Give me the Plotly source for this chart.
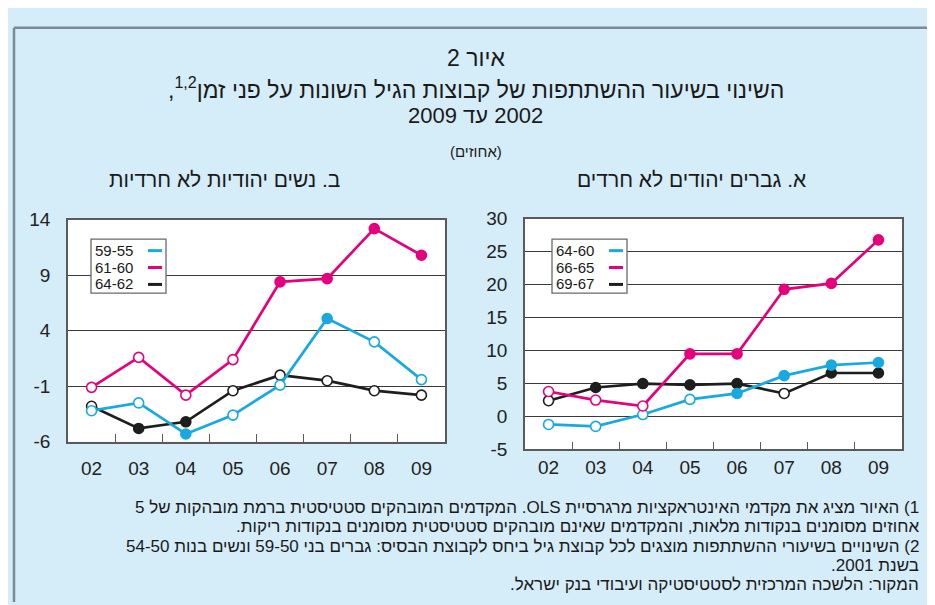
import plotly.graph_objects as go

# ---------------- data ----------------
years = ["02", "03", "04", "05", "06", "07", "08", "09"]

# Panel B: non-Haredi Jewish women
women_labels = ["59-55", "61-60", "64-62"]
women_55_59 = [-3.2, -2.5, -5.3, -3.6, -0.9, 5.1, 3.0, -0.4]
women_60_61 = [-1.1, 1.6, -1.8, 1.4, 8.4, 8.7, 13.2, 10.8]
women_62_64 = [-2.8, -4.8, -4.2, -1.4, 0.0, -0.5, -1.4, -1.8]
women_55_59_sig = [0, 0, 1, 0, 0, 1, 0, 0]
women_60_61_sig = [0, 0, 0, 0, 1, 1, 1, 1]
women_62_64_sig = [0, 1, 1, 0, 0, 0, 0, 0]
women_ticks = [-6, -1, 4, 9, 14]

# Panel A: non-Haredi Jewish men
men_labels = ["64-60", "66-65", "69-67"]
men_60_64 = [-1.2, -1.5, 0.3, 2.6, 3.5, 6.2, 7.8, 8.2]
men_65_66 = [3.8, 2.5, 1.6, 9.5, 9.5, 19.3, 20.2, 26.8]
men_67_69 = [2.4, 4.4, 5.0, 4.8, 5.0, 3.5, 6.6, 6.6]
men_60_64_sig = [0, 0, 0, 0, 1, 1, 1, 1]
men_65_66_sig = [0, 0, 0, 1, 1, 1, 1, 1]
men_67_69_sig = [0, 1, 1, 1, 1, 0, 1, 1]
men_ticks = [-5, 0, 5, 10, 15, 20, 25, 30]

BLUE = "#19a9e1"
PINK = "#e5007e"
BLACK = "#1e1e1e"
BG = "#d5ecf9"
SERIES_COLORS = [BLUE, PINK, BLACK]

RLE, PDF = "\u202b", "\u202c"


def rtl(s):
    return RLE + s + PDF


fig = go.Figure()
xpos = list(range(len(years)))


def add_series(vals, sig, color, xa, ya):
    fig.add_trace(go.Scatter(
        x=xpos, y=vals, mode="lines+markers", xaxis=xa, yaxis=ya,
        line=dict(color=color, width=2.7),
        marker=dict(symbol="circle", size=10,
                    color=[color if s else "white" for s in sig],
                    line=dict(color=color, width=1.6)),
        showlegend=False, hoverinfo="skip"))


# women (left)
add_series(women_62_64, women_62_64_sig, BLACK, "x", "y")
add_series(women_55_59, women_55_59_sig, BLUE, "x", "y")
add_series(women_60_61, women_60_61_sig, PINK, "x", "y")
# men (right)
add_series(men_67_69, men_67_69_sig, BLACK, "x2", "y2")
add_series(men_60_64, men_60_64_sig, BLUE, "x2", "y2")
add_series(men_65_66, men_65_66_sig, PINK, "x2", "y2")

W, H = 935, 605


def px_x(p):
    return p / W


def px_y(p):
    return 1 - p / H


# panel boxes in pixels: left, right, top, bottom
PANEL_L = (60, 437, 209, 439)
PANEL_R = (517, 894, 208, 447)

TICKFONT = dict(family="Liberation Sans, Arial", size=19, color="#222")
axis_common = dict(showline=True, mirror=True, linecolor="#5a5a5a", linewidth=1.5,
                   zeroline=False)
xa_common = dict(axis_common, range=[-0.5, 7.5], tickmode="array", tickvals=xpos,
                 ticktext=years, ticks="", showgrid=False, tickfont=TICKFONT,
                 minor=dict(tickmode="array", tickvals=[i + 0.5 for i in range(7)],
                            ticks="inside", ticklen=8, tickwidth=1.3, tickcolor="#5a5a5a",
                            showgrid=False))
ya_common = dict(axis_common, tickmode="array", ticks="", showgrid=True,
                 gridcolor="#3a3a3a", gridwidth=1, tickfont=TICKFONT,
                 ticklabelstandoff=12)

fig.update_layout(
    width=W, height=H, margin=dict(l=0, r=0, t=0, b=0),
    paper_bgcolor=BG, plot_bgcolor="white",
    xaxis=dict(xa_common, domain=[px_x(PANEL_L[0]), px_x(PANEL_L[1])], anchor="y",
               ticklabelstandoff=9),
    yaxis=dict(ya_common, domain=[px_y(PANEL_L[3]), px_y(PANEL_L[2])], anchor="x",
               range=[-6, 14], tickvals=women_ticks,
               ticktext=[str(v) for v in women_ticks]),
    xaxis2=dict(xa_common, domain=[px_x(PANEL_R[0]), px_x(PANEL_R[1])], anchor="y2",
                ticklabelstandoff=0),
    yaxis2=dict(ya_common, domain=[px_y(PANEL_R[3]), px_y(PANEL_R[2])], anchor="x2",
                range=[-5, 30], tickvals=men_ticks,
                ticktext=[str(v) for v in men_ticks]),
)

HEB = "Liberation Sans, DejaVu Sans, Arial"
annots = []


def txt(s, x, y, size, xanchor="center", color="#1a1a1a"):
    annots.append(dict(text=rtl(s), x=px_x(x), y=px_y(y), xref="paper", yref="paper",
                       xanchor=xanchor, yanchor="middle", showarrow=False, borderpad=0,
                       font=dict(family=HEB, size=size, color=color)))


txt("איור 2", 468, 41, 23)
txt("השינוי בשיעור ההשתתפות של קבוצות הגיל השונות על פני זמן<sup>1,2</sup>,", 468, 72, 23)
txt("2002 עד 2009", 468, 101, 22)
txt("(אחוזים)", 468, 138, 15)
txt("ב. נשים יהודיות לא חרדיות", 216, 167, 21)
txt("א. גברים יהודים לא חרדים", 683, 167, 21)

notes = [
    "1) האיור מציג את מקדמי האינטראקציות מרגרסיית OLS. המקדמים המובהקים סטטיסטית ברמת מובהקות של 5",
    "אחוזים מסומנים בנקודות מלאות, והמקדמים שאינם מובהקים סטטיסטית מסומנים בנקודות ריקות.",
    "2) השינויים בשיעורי ההשתתפות מוצגים לכל קבוצת גיל ביחס לקבוצת הבסיס: גברים בני 59-50 ונשים בנות 54-50",
    "בשנת 2001.",
    "המקור: הלשכה המרכזית לסטטיסטיקה ועיבודי בנק ישראל.",
]
note_y = [507, 527, 547, 567, 587]
for s, yy in zip(notes, note_y):
    txt(s, 912, yy, 17, xanchor="right")


# ---- legends: white box + rows (label on the left, colour swatch on the right) ----
def add_legend(labels, panel, xr, yr, box_left, box_top):
    l, r, t, b = panel

    def dx(p):
        return (p - l) / (r - l)

    def dy(p):
        return (b - p) / (b - t)

    fig.add_shape(type="rect", xref=xr, yref=yr,
                  x0=dx(box_left), x1=dx(box_left + 75),
                  y0=dy(box_top), y1=dy(box_top + 56),
                  fillcolor="white", line=dict(color="#6a6a6a", width=1.3), layer="above")
    for i, (lab, c) in enumerate(zip(labels, SERIES_COLORS)):
        yc = box_top + 11.5 + 17.5 * i
        annots.append(dict(text=lab, x=dx(box_left + 3), y=dy(yc), xref=xr, yref=yr,
                           xanchor="left", yanchor="middle", showarrow=False,
                           borderpad=0,
                           font=dict(family="Liberation Sans, Arial", size=15,
                                     color="#1a1a1a")))
        fig.add_shape(type="line", xref=xr, yref=yr,
                      x0=dx(box_left + 57), x1=dx(box_left + 71),
                      y0=dy(yc + 0.5), y1=dy(yc + 0.5),
                      line=dict(color=c, width=3), layer="above")


add_legend(women_labels, PANEL_L, "x domain", "y domain", 83, 229)
add_legend(men_labels, PANEL_R, "x2 domain", "y2 domain", 544, 229)

fig.update_layout(annotations=annots)

# outer frame lines
fig.add_shape(type="line", xref="paper", yref="paper", x0=px_x(6), x1=1, y0=px_y(10), y1=px_y(10),
              line=dict(color="#7b8a93", width=2.5))
fig.add_shape(type="line", xref="paper", yref="paper", x0=px_x(6), x1=px_x(6), y0=px_y(10), y1=0,
              line=dict(color="#7b8a93", width=2.5))

fig.write_html("out.html")
